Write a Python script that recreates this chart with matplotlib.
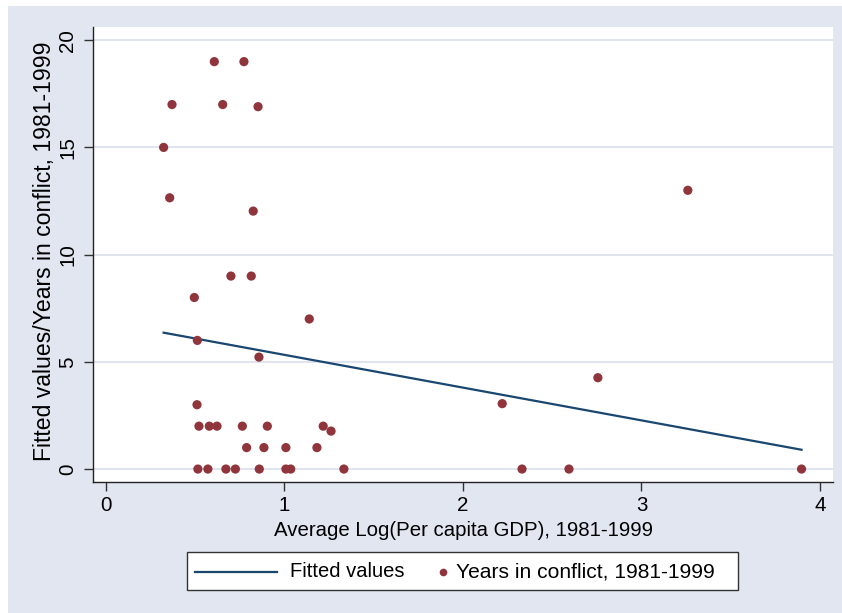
import matplotlib
matplotlib.use("Agg")
import matplotlib.pyplot as plt
from matplotlib.patches import Rectangle
from matplotlib.lines import Line2D
import numpy as np

plt.rcParams['font.family'] = ['Liberation Sans', 'DejaVu Sans']

# Data: average log per-capita GDP vs years in conflict
gdp = [0.607, 0.773, 0.370, 0.654, 0.852, 0.323, 0.357, 0.825, 0.700, 0.814,
       0.495, 1.139, 0.512, 0.857, 0.510,
       0.521, 0.579, 0.622, 0.764, 0.904, 1.217,
       1.261,
       0.788, 0.885, 1.008, 1.182,
       0.515, 0.571, 0.672, 0.725, 0.859, 1.008, 1.035, 1.333,
       2.756, 2.220, 2.331, 2.594, 3.897, 3.260]
years = [19, 19, 17, 17, 16.9, 15, 12.65, 12.03, 9, 9,
         8, 7, 6, 5.22, 3,
         2, 2, 2, 2, 2, 2,
         1.77,
         1, 1, 1, 1,
         0, 0, 0, 0, 0, 0, 0, 0,
         4.26, 3.05, 0, 0, 0, 13]
fit_x = [min(gdp), max(gdp)]
fit_y = [6.36, 0.90]

xticks = [0, 1, 2, 3, 4]
yticks = [0, 5, 10, 15, 20]

W, H = 842, 613
fig = plt.figure(figsize=(W / 100, H / 100), dpi=100)
fig.patch.set_facecolor('white')
bg = '#E1E6F1'
fig.patches.append(Rectangle((8 / W, 0), 1 - 8 / W, 1 - 6 / H, transform=fig.transFigure,
                             facecolor=bg, edgecolor='none', zorder=-10))

left, right = 93.3 / W, 833.3 / W
bottom, top = 1 - 481.7 / H, 1 - 26.7 / H
ax = fig.add_axes([left, bottom, right - left, top - bottom])
ax.set_facecolor('white')

ax.plot(fit_x, fit_y, color='#1A476F', lw=1.6, zorder=3)
ax.scatter(gdp, years, s=44, color='#90353B', edgecolors='none', zorder=4)

ax.set_xlim(-0.071, 4.075)
ax.set_ylim(-0.59, 20.63)
ax.set_xticks(xticks)
ax.set_yticks(yticks)
ax.set_xticklabels([str(t) for t in xticks])
ax.set_yticklabels([str(t) for t in yticks], rotation=90, va='center')

ax.grid(axis='y', color='#DCE2EE', lw=1.3, zorder=0)
ax.grid(axis='x', visible=False)
for s in ['top', 'right']:
    ax.spines[s].set_visible(False)
for s in ['left', 'bottom']:
    ax.spines[s].set_color('#222222')
    ax.spines[s].set_linewidth(1.0)
ax.tick_params(axis='both', direction='out', length=6.5, width=1.0, color='#333333',
               labelsize=14.8, labelcolor='black')
ax.tick_params(axis='y', pad=5)
ax.tick_params(axis='x', pad=4)

ax.set_xlabel('Average Log(Per capita GDP), 1981-1999', fontsize=14.7)
ax.set_ylabel('Fitted values/Years in conflict, 1981-1999', fontsize=16.6)
ax.xaxis.label.set_va('center')
ax.xaxis.set_label_coords(0.5, -(530 - 481.7) / (481.7 - 26.7))
ax.yaxis.label.set_va('center')
ax.yaxis.set_label_coords(-(93.3 - 45) / (833.3 - 93.3), (481.7 - 251) / (481.7 - 26.7))

# Legend (manual, in pixel coordinates)
def fx(px):
    return px / W

def fy(py):
    return 1 - py / H

fig.patches.append(Rectangle((fx(186.7), fy(590)), fx(737.7) - fx(186.7), fy(551.7) - fy(590),
                             transform=fig.transFigure, facecolor='white',
                             edgecolor='#333333', lw=1.0, zorder=5))
fig.lines.append(Line2D([fx(195), fx(277)], [fy(571.5), fy(571.5)], transform=fig.transFigure,
                        color='#1A476F', lw=1.6, zorder=6))
fig.text(fx(290), fy(571.5), 'Fitted values', fontsize=14.5, va='center', ha='left', zorder=6)
fig.lines.append(Line2D([fx(442.7)], [fy(571.5)], transform=fig.transFigure, marker='o',
                        markersize=5.5, color='#90353B', markeredgecolor='none', ls='none', zorder=6))
fig.text(fx(456.5), fy(571.5), 'Years in conflict, 1981-1999', fontsize=15.1, va='center',
         ha='left', zorder=6)

fig.savefig('out.png', dpi=100, facecolor=fig.get_facecolor())
